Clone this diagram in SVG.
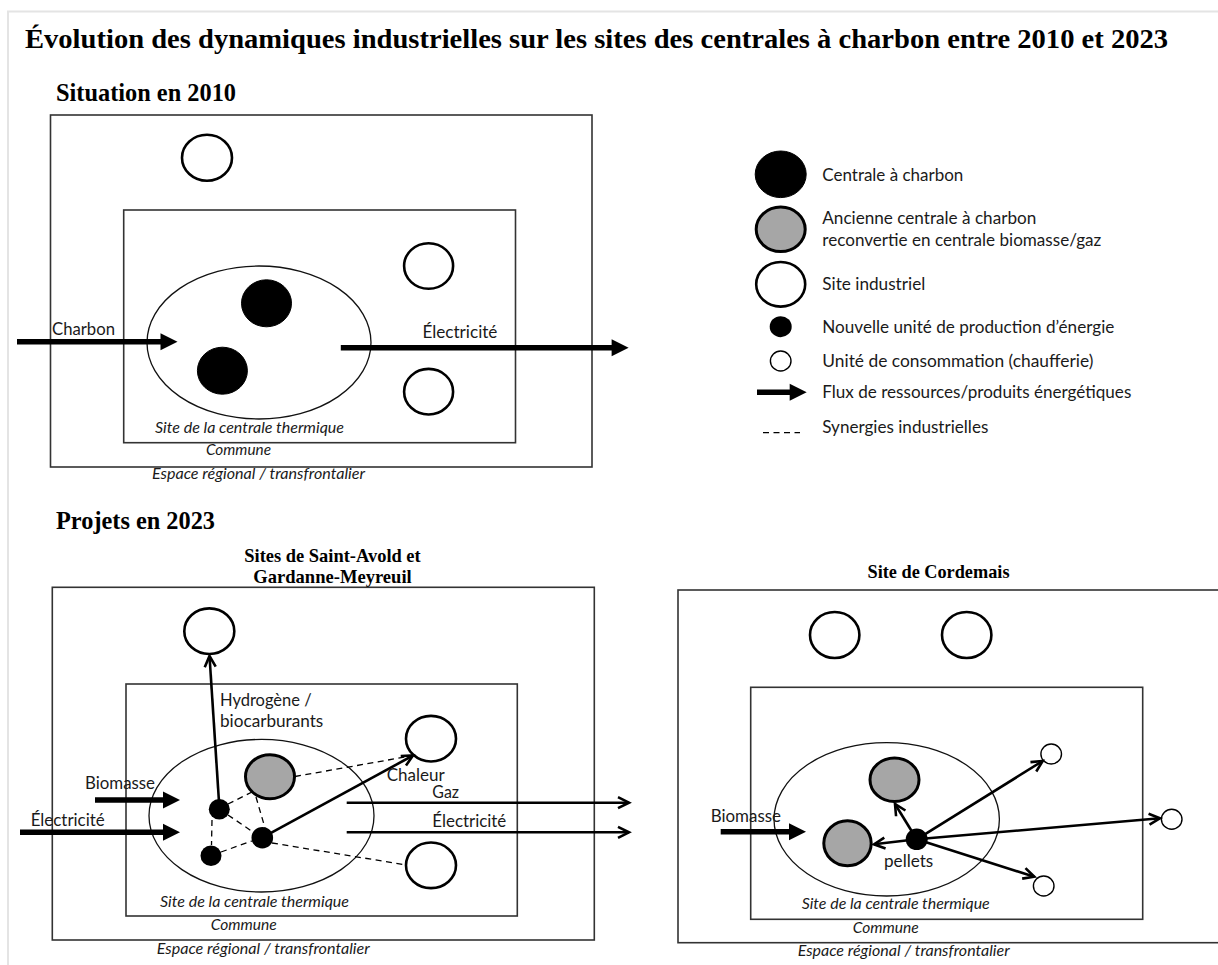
<svg xmlns="http://www.w3.org/2000/svg" width="1218" height="965" viewBox="0 0 1218 965">
<style>
.hd{font-family:"Liberation Serif","Times New Roman",serif;font-weight:bold;fill:#000}
.lb{font-family:Lato,"Liberation Sans",sans-serif;font-size:17px;fill:#1a1a1a}
.it{font-family:Lato,"Liberation Sans",sans-serif;font-size:15px;font-style:italic;fill:#1a1a1a}
.box{fill:none;stroke:#333;stroke-width:1.6}
.zone{fill:none;stroke:#111;stroke-width:1.3}
.site{fill:#fff;stroke:#000;stroke-width:2.6}
.coal{fill:#000;stroke:#000;stroke-width:1}
.conv{fill:#a6a6a6;stroke:#000;stroke-width:3}
.dot{fill:#000}
.cons{fill:#fff;stroke:#000;stroke-width:1.4}
.thick{stroke:#000;stroke-width:5.5;fill:none;marker-end:url(#big)}
.thin{stroke:#000;stroke-width:2.6;fill:none;marker-end:url(#open)}
.dash{stroke:#000;stroke-width:1.3;fill:none;stroke-dasharray:6 4.5}
.frame{stroke:#e4e4e4;stroke-width:2;fill:none}
</style>
<defs>
<marker id="big" markerUnits="userSpaceOnUse" viewBox="0 0 17 17" refX="5" refY="8.5" markerWidth="17" markerHeight="17" orient="auto" overflow="visible">
<path d="M0,0 L17,8.5 L0,17 z" fill="#000"/>
</marker>
<marker id="open" markerUnits="userSpaceOnUse" viewBox="0 0 12 12" refX="11" refY="6" markerWidth="12" markerHeight="12" orient="auto" overflow="visible">
<path d="M0,0.5 L11,6 L0,11.5" fill="none" stroke="#000" stroke-width="2.6" stroke-linejoin="miter"/>
</marker>
</defs>
<rect width="1218" height="965" fill="#fff"/>
<path class="frame" d="M8,965 V11.5 H1218"/>

<g id="title">
<text class="hd" x="25" y="48" font-size="28" textLength="1143" lengthAdjust="spacingAndGlyphs">Évolution des dynamiques industrielles sur les sites des centrales à charbon entre 2010 et 2023</text>
</g>

<!-- ===== Situation 2010 ===== -->
<g id="panel-2010">
<text class="hd" x="56" y="101" font-size="25" textLength="180" lengthAdjust="spacingAndGlyphs">Situation en 2010</text>
<rect id="r2010-region" class="box" x="50.5" y="115" width="541.5" height="352"/>
<rect id="r2010-commune" class="box" x="123.7" y="210" width="391.8" height="232.7"/>
<ellipse id="r2010-site" class="zone" cx="259" cy="342.5" rx="112" ry="76.5"/>
<text class="it" x="155" y="433" textLength="189" lengthAdjust="spacingAndGlyphs">Site de la centrale thermique</text>
<text class="it" x="206" y="455" textLength="65" lengthAdjust="spacingAndGlyphs">Commune</text>
<text class="it" x="152" y="479" textLength="213" lengthAdjust="spacingAndGlyphs">Espace régional / transfrontalier</text>
</g>
<g id="n2010-ind1"><ellipse class="site" cx="207" cy="157.7" rx="25" ry="23"/></g>
<g id="n2010-ind2"><ellipse class="site" cx="428.6" cy="266" rx="24.5" ry="22.8"/></g>
<g id="n2010-ind3"><ellipse class="site" cx="428.6" cy="391.7" rx="24.5" ry="22.8"/></g>
<g id="n2010-coal1"><ellipse class="coal" cx="266.5" cy="303.3" rx="25" ry="23.5"/></g>
<g id="n2010-coal2"><ellipse class="coal" cx="222.4" cy="370.7" rx="25" ry="23.5"/></g>

<!-- ===== Legend ===== -->
<g id="legend">
<ellipse class="coal" cx="780.7" cy="174.3" rx="25.5" ry="23.3"/>
<text class="lb" x="822.3" y="180.7" textLength="141" lengthAdjust="spacingAndGlyphs">Centrale à charbon</text>
<ellipse class="conv" cx="780.7" cy="229.3" rx="24.5" ry="22.3"/>
<text class="lb" x="822.3" y="224" textLength="214" lengthAdjust="spacingAndGlyphs">Ancienne centrale à charbon</text>
<text class="lb" x="822.3" y="245.7" textLength="279" lengthAdjust="spacingAndGlyphs">reconvertie en centrale biomasse/gaz</text>
<ellipse class="site" cx="780.7" cy="284.3" rx="24.5" ry="22.3"/>
<text class="lb" x="822.3" y="290" textLength="103" lengthAdjust="spacingAndGlyphs">Site industriel</text>
<ellipse class="dot" cx="780.7" cy="326.7" rx="11" ry="10.5"/>
<text class="lb" x="822.3" y="332.7" textLength="292" lengthAdjust="spacingAndGlyphs">Nouvelle unité de production d’énergie</text>
<ellipse class="cons" cx="780.7" cy="361" rx="10.3" ry="10"/>
<text class="lb" x="822.3" y="366.7" textLength="271" lengthAdjust="spacingAndGlyphs">Unité de consommation (chaufferie)</text>
<line class="thick" x1="757" y1="392.3" x2="794.7" y2="392.3"/>
<text class="lb" x="822.3" y="398.3" textLength="309" lengthAdjust="spacingAndGlyphs">Flux de ressources/produits énergétiques</text>
<line class="dash" x1="763" y1="432.7" x2="800" y2="432.7"/>
<text class="lb" x="822.3" y="432.7" textLength="166" lengthAdjust="spacingAndGlyphs">Synergies industrielles</text>
</g>

<!-- ===== Projets 2023 ===== -->
<text class="hd" x="56" y="529" font-size="25" textLength="159" lengthAdjust="spacingAndGlyphs">Projets en 2023</text>

<g id="panel-sag">
<text class="hd" x="244.3" y="561.7" font-size="19" textLength="176.4" lengthAdjust="spacingAndGlyphs">Sites de Saint-Avold et</text>
<text class="hd" x="253.3" y="583.3" font-size="19" textLength="158.4" lengthAdjust="spacingAndGlyphs">Gardanne-Meyreuil</text>
<rect id="sag-region" class="box" x="52.3" y="587.3" width="542" height="352.7"/>
<rect id="sag-commune" class="box" x="126" y="684" width="391.3" height="232"/>
<ellipse id="sag-site" class="zone" cx="261.5" cy="815.7" rx="112.5" ry="76.3"/>
<text class="it" x="160" y="906.7" textLength="189" lengthAdjust="spacingAndGlyphs">Site de la centrale thermique</text>
<text class="it" x="210.7" y="930" textLength="66" lengthAdjust="spacingAndGlyphs">Commune</text>
<text class="it" x="156.7" y="954" textLength="213" lengthAdjust="spacingAndGlyphs">Espace régional / transfrontalier</text>
</g>
<g id="sag-ind-top"><ellipse class="site" cx="209.3" cy="631.2" rx="25" ry="22.8"/></g>
<g id="sag-ind-heat"><ellipse class="site" cx="431" cy="738.7" rx="25" ry="22.8"/></g>
<g id="sag-ind-low"><ellipse class="site" cx="431" cy="865.3" rx="25" ry="22.8"/></g>
<g id="sag-conv"><ellipse class="conv" cx="270" cy="776.7" rx="24.5" ry="22"/></g>
<g id="sag-dotA"><ellipse class="dot" cx="219.3" cy="809.3" rx="10.5" ry="10.3"/></g>
<g id="sag-dotB"><ellipse class="dot" cx="262.3" cy="837.7" rx="10.8" ry="10.8"/></g>
<g id="sag-dotC"><ellipse class="dot" cx="211" cy="855.7" rx="10.5" ry="10.3"/></g>

<!-- ===== Cordemais ===== -->
<g id="panel-cordemais">
<text class="hd" x="867.5" y="578.3" font-size="19" textLength="142" lengthAdjust="spacingAndGlyphs">Site de Cordemais</text>
<rect id="cor-region" class="box" x="678" y="590" width="570" height="352.7"/>
<rect id="cor-commune" class="box" x="750.7" y="687.3" width="392" height="232"/>
<ellipse id="cor-site" class="zone" cx="886.7" cy="819.3" rx="112.7" ry="76.7"/>
<text class="it" x="801.7" y="909.3" textLength="188" lengthAdjust="spacingAndGlyphs">Site de la centrale thermique</text>
<text class="it" x="852.7" y="932.7" textLength="66" lengthAdjust="spacingAndGlyphs">Commune</text>
<text class="it" x="797.7" y="956" textLength="212" lengthAdjust="spacingAndGlyphs">Espace régional / transfrontalier</text>
</g>
<g id="cor-ind1"><ellipse class="site" cx="834.7" cy="635" rx="24.7" ry="23"/></g>
<g id="cor-ind2"><ellipse class="site" cx="966.7" cy="635" rx="24.7" ry="23"/></g>
<g id="cor-conv1"><ellipse class="conv" cx="894.5" cy="779.7" rx="24.5" ry="21.8"/></g>
<g id="cor-conv2"><ellipse class="conv" cx="847.5" cy="843.3" rx="23.7" ry="22.5"/></g>
<g id="cor-dot"><ellipse class="dot" cx="916.7" cy="839.3" rx="11" ry="10.8"/></g>
<g id="cor-cons1"><ellipse class="cons" cx="1051.2" cy="754" rx="10.3" ry="10"/></g>
<g id="cor-cons2"><ellipse class="cons" cx="1171.7" cy="819.3" rx="10.3" ry="10"/></g>
<g id="cor-cons3"><ellipse class="cons" cx="1043.7" cy="886" rx="10.3" ry="10"/></g>

<!-- ===== Connectors ===== -->
<g id="connectors">
<line class="thick" x1="17" y1="341.7" x2="165.5" y2="341.7"/>
<line class="thick" x1="340.8" y1="347.7" x2="616.6" y2="347.7"/>
<line class="thick" x1="95" y1="800" x2="168" y2="800"/>
<line class="thick" x1="20" y1="832.3" x2="168" y2="832.3"/>
<line class="thin" x1="219" y1="802" x2="209.5" y2="656"/>
<line class="thin" x1="262.3" y1="837.7" x2="413" y2="755.5"/>
<line class="thin" x1="346.7" y1="802.7" x2="629" y2="802.7"/>
<line class="thin" x1="346.7" y1="832.3" x2="629" y2="832.3"/>
<line class="dash" x1="228" y1="804" x2="252" y2="792"/>
<line class="dash" x1="256" y1="797" x2="265" y2="828"/>
<line class="dash" x1="228" y1="815" x2="253" y2="832"/>
<line class="dash" x1="212" y1="820" x2="211.5" y2="845"/>
<line class="dash" x1="221" y1="852" x2="252" y2="841"/>
<line class="dash" x1="295" y1="776.5" x2="405" y2="757"/>
<line class="dash" x1="272" y1="843" x2="406.5" y2="865"/>
<line class="thick" x1="720.7" y1="831.7" x2="794" y2="831.7"/>
<line class="thin" x1="916.7" y1="839.3" x2="895" y2="804"/>
<line class="thin" x1="916.7" y1="839.3" x2="874" y2="844.3"/>
<line class="thin" x1="916.7" y1="839.3" x2="1042.7" y2="761"/>
<line class="thin" x1="916.7" y1="839.3" x2="1160" y2="818.3"/>
<line class="thin" x1="916.7" y1="839.3" x2="1034.3" y2="876.7"/>
</g>

<!-- ===== Connector labels ===== -->
<g id="labels">
<text class="lb" x="52" y="335" textLength="63" lengthAdjust="spacingAndGlyphs">Charbon</text>
<text class="lb" x="422.4" y="338" textLength="75" lengthAdjust="spacingAndGlyphs">Électricité</text>
<text class="lb" x="220" y="706" textLength="91.7" lengthAdjust="spacingAndGlyphs">Hydrogène /</text>
<text class="lb" x="220" y="727.3" textLength="103.3" lengthAdjust="spacingAndGlyphs">biocarburants</text>
<text class="lb" x="85" y="789.3" textLength="70" lengthAdjust="spacingAndGlyphs">Biomasse</text>
<text class="lb" x="30.7" y="825.7" textLength="74" lengthAdjust="spacingAndGlyphs">Électricité</text>
<text class="lb" x="386.7" y="780.5" textLength="58" lengthAdjust="spacingAndGlyphs">Chaleur</text>
<text class="lb" x="432.3" y="797.5" textLength="26.7" lengthAdjust="spacingAndGlyphs">Gaz</text>
<text class="lb" x="432.3" y="826.7" textLength="74" lengthAdjust="spacingAndGlyphs">Électricité</text>
<text class="lb" x="710.7" y="821.7" textLength="70.3" lengthAdjust="spacingAndGlyphs">Biomasse</text>
<text class="lb" x="884" y="867.3" textLength="49.3" lengthAdjust="spacingAndGlyphs">pellets</text>
</g>
</svg>
